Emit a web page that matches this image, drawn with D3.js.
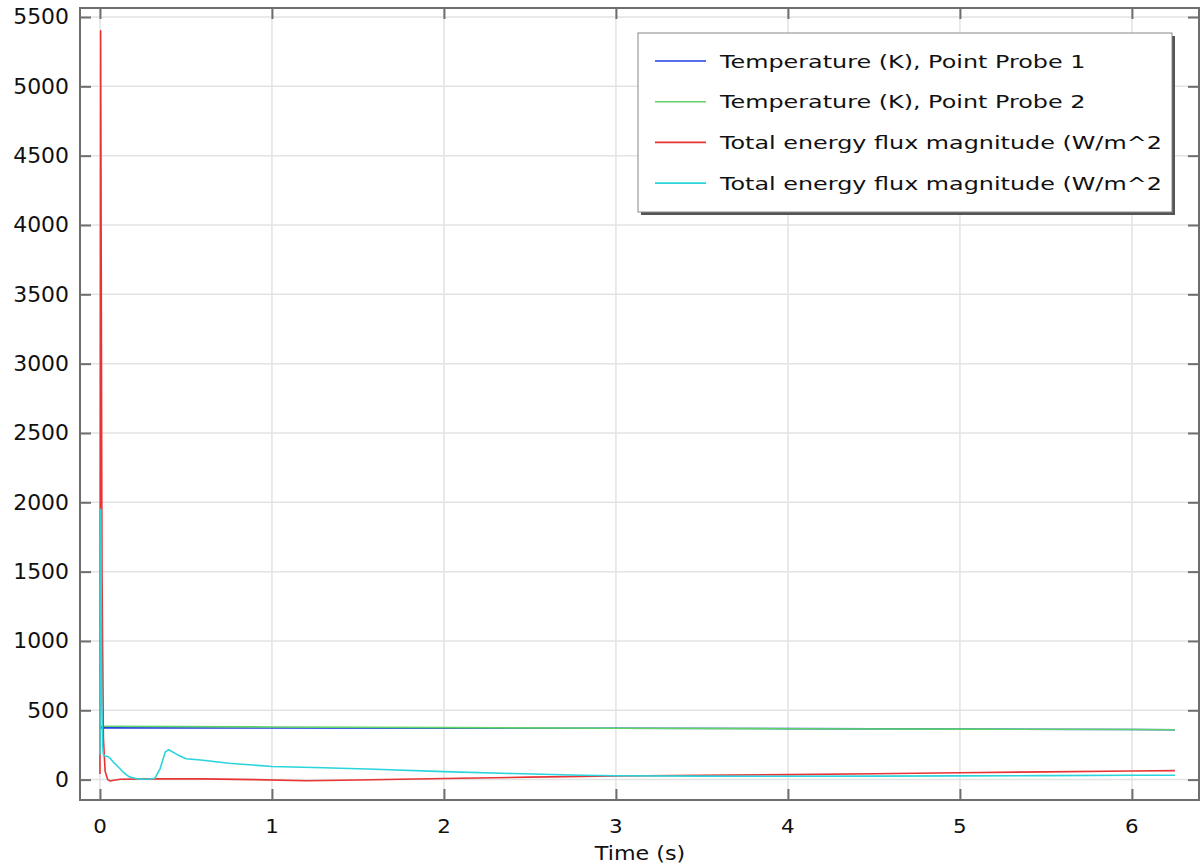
<!DOCTYPE html>
<html><head><meta charset="utf-8">
<script src="https://cdn.jsdelivr.net/npm/d3@7"></script>
<style>
html,body{margin:0;padding:0;background:#fff;}
svg{display:block;font-family:"DejaVu Sans",sans-serif;}
</style></head>
<body><svg id="chart" width="1202" height="866"></svg>
<script>
// ---- data ----
const seriesNames = [
  "Temperature (K), Point Probe 1",
  "Temperature (K), Point Probe 2",
  "Total energy flux magnitude (W/m^2",
  "Total energy flux magnitude (W/m^2"
];
const timeProbe1 = [0, 1, 2, 3, 4, 5, 6, 6.25];
const tempProbe1 = [373, 372, 371, 370, 368, 365, 361, 360];
const timeProbe2 = [0, 1, 2, 3, 4, 5, 6, 6.25];
const tempProbe2 = [385, 380, 375, 371, 367, 364, 361, 360];
const timeFlux1 = [0, 0.004, 0.012, 0.02, 0.03, 0.045, 0.06, 0.08, 0.12, 0.3, 0.6, 0.9, 1.2, 1.5, 2.0, 2.5, 3.0, 3.5, 4.0, 4.5, 5.0, 5.5, 6.0, 6.25];
const flux1 = [40, 5400, 1500, 300, 60, 0, -10, -5, 3, 5, 5, 0, -8, -3, 8, 18, 26, 32, 36, 42, 50, 56, 62, 65];
const timeFlux2 = [0, 0.005, 0.01, 0.015, 0.02, 0.03, 0.05, 0.075, 0.1, 0.13, 0.17, 0.22, 0.27, 0.32, 0.35, 0.38, 0.4, 0.45, 0.5, 0.6, 0.75, 1.0, 1.3, 1.6, 2.0, 2.4, 2.8, 3.0, 3.5, 4.0, 4.5, 5.0, 5.5, 6.0, 6.25];
const flux2 = [180, 1950, 600, 250, 180, 170, 165, 130, 100, 60, 20, 5, 3, 10, 80, 200, 215, 180, 150, 140, 118, 95, 86, 75, 58, 44, 32, 28, 25, 24, 25, 27, 29, 31, 32];
const xTicks = [0, 1, 2, 3, 4, 5, 6];
const yTicks = [0, 500, 1000, 1500, 2000, 2500, 3000, 3500, 4000, 4500, 5000, 5500];
const xLabel = "Time (s)";

const colors = ["#1f3fe6", "#5fd36a", "#e83434", "#2ad4dc"];
const series = [
  {t: timeProbe1, v: tempProbe1},
  {t: timeProbe2, v: tempProbe2},
  {t: timeFlux1, v: flux1},
  {t: timeFlux2, v: flux2}
];

// ---- layout ----
const L = 80, R = 1199, T = 8, B = 800;
const svg = d3.select("#chart");
const x = d3.scaleLinear().domain([-0.116, 6.39]).range([L, R]);
const y = d3.scaleLinear().domain([-147, 5565]).range([B, T]);

// helper: horizontally stretched text (reference glyphs are wider)
function stretchedText(g, tx, ty, str, size, sx, anchor) {
  return g.append("text")
    .attr("transform", `translate(${tx},${ty}) scale(${sx},1)`)
    .attr("dy", "0.36em").attr("text-anchor", anchor)
    .attr("font-size", size).attr("fill", "#111").text(str);
}

// grid
const grid = svg.append("g").attr("stroke", "#e3e3e3").attr("stroke-width", 1.5);
xTicks.forEach(d => grid.append("line").attr("x1", x(d)).attr("x2", x(d)).attr("y1", T).attr("y2", B));
yTicks.forEach(d => grid.append("line").attr("x1", L).attr("x2", R).attr("y1", y(d)).attr("y2", y(d)));

// lines
svg.append("clipPath").attr("id", "pc").append("rect").attr("x", L).attr("y", T).attr("width", R - L).attr("height", B - T);
const lineGen = d3.line().x(d => x(d[0])).y(d => y(d[1]));
const plot = svg.append("g").attr("clip-path", "url(#pc)");
series.forEach((s, i) => {
  const pts = s.t.map((t, j) => [t, s.v[j]]);
  plot.append("path").attr("d", lineGen(pts)).attr("fill", "none")
    .attr("stroke", colors[i]).attr("stroke-width", 1.6).attr("stroke-linejoin", "round");
});

// axes (inside ticks on all four sides)
const axCol = "#6e6e6e";
const axL = svg.append("g").attr("transform", `translate(${L},0)`).call(d3.axisRight(y).tickValues(yTicks).tickSize(11).tickFormat(""));
const axR = svg.append("g").attr("transform", `translate(${R},0)`).call(d3.axisLeft(y).tickValues(yTicks).tickSize(11).tickFormat(""));
const axB = svg.append("g").attr("transform", `translate(0,${B})`).call(d3.axisTop(x).tickValues(xTicks).tickSize(11).tickFormat(""));
const axT = svg.append("g").attr("transform", `translate(0,${T})`).call(d3.axisBottom(x).tickValues(xTicks).tickSize(11).tickFormat(""));
[axL, axR, axB, axT].forEach(a => {
  a.select(".domain").remove();
  a.selectAll(".tick line").attr("stroke", axCol).attr("stroke-width", 2);
});
svg.append("rect").attr("x", L).attr("y", T).attr("width", R - L).attr("height", B - T)
  .attr("fill", "none").attr("stroke", axCol).attr("stroke-width", 2);

// tick labels
const yl = svg.append("g");
yTicks.forEach(d => stretchedText(yl, 69, y(d), d, 20.5, 1.07, "end"));
const xl = svg.append("g");
xTicks.forEach(d => stretchedText(xl, x(d), 826, d, 20, 1.07, "middle"));
stretchedText(svg, 640, 853, xLabel, 19, 1.17, "middle");

// legend
const lgX = 638, lgY = 33, lgW = 534, lgH = 179;
svg.append("rect").attr("x", lgX + 3).attr("y", lgY + 3).attr("width", lgW).attr("height", lgH).attr("fill", "#555");
svg.append("rect").attr("x", lgX).attr("y", lgY).attr("width", lgW).attr("height", lgH).attr("fill", "#fff")
  .attr("stroke", "#888").attr("stroke-width", 1);
svg.append("clipPath").attr("id", "lc").append("rect").attr("x", lgX).attr("y", lgY).attr("width", lgW - 3).attr("height", lgH);
const lg = svg.append("g").attr("clip-path", "url(#lc)");
seriesNames.forEach((n, i) => {
  const yy = lgY + 28 + i * 40.7;
  lg.append("line").attr("x1", lgX + 17).attr("x2", lgX + 68).attr("y1", yy).attr("y2", yy)
    .attr("stroke", colors[i]).attr("stroke-width", 1.6);
  stretchedText(lg, lgX + 82, yy, n, 18.5, 1.29, "start");
});
</script></body></html>
